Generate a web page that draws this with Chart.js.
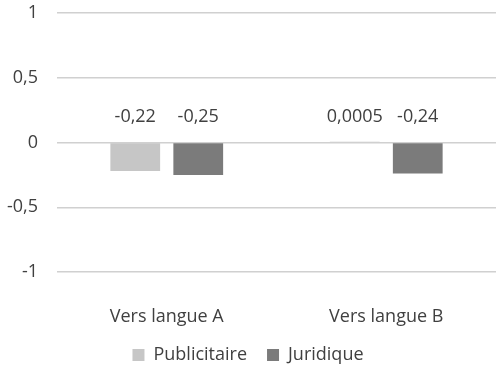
<!DOCTYPE html>
<html lang="fr">
<head>
<meta charset="UTF-8">
<title>Publicitaire / Juridique</title>
<script src="https://cdn.jsdelivr.net/npm/chart.js"></script>
<style>
    body { margin: 0; background: #ffffff; }
    .chart-box { width: 500px; height: 367px; }
</style>
</head>
<body>
<div class="chart-box"><canvas id="chart"></canvas></div>
<script>
    const categories = ['Vers langue A', 'Vers langue B'];
    const publicitaire = [-0.22, 0.0005];
    const juridique = [-0.25, -0.24];
    const yTicks = [-1, -0.5, 0, 0.5, 1];

    const frNum = v => String(v).replace('.', ',');

    // value labels drawn just above the zero line, like the original
    const valueLabels = {
        id: 'valueLabels',
        afterDatasetsDraw(chart) {
            const ctx = chart.ctx;
            const zeroY = chart.scales.y.getPixelForValue(0);
            ctx.save();
            ctx.font = '18px "Open Sans"';
            ctx.fillStyle = '#404040';
            ctx.textAlign = 'center';
            ctx.textBaseline = 'middle';
            chart.data.datasets.forEach((ds, i) => {
                chart.getDatasetMeta(i).data.forEach((bar, j) => {
                    ctx.fillText(frNum(ds.data[j]), bar.x, zeroY - 26);
                });
            });
            ctx.restore();
        }
    };

    new Chart(document.getElementById('chart'), {
        type: 'bar',
        data: {
            labels: categories,
            datasets: [
                { label: 'Publicitaire', data: publicitaire, backgroundColor: '#c6c6c6', minBarLength: 1 },
                { label: 'Juridique', data: juridique, backgroundColor: '#7b7b7b' }
            ]
        },
        options: {
            responsive: true,
            maintainAspectRatio: false,
            animation: false,
            layout: { padding: { top: 0, right: 4, bottom: -7, left: 0 } },
            datasets: {
                bar: { categoryPercentage: 0.574, barPercentage: 0.79 }
            },
            scales: {
                x: {
                    afterFit: s => { s.height = 54; },
                    grid: { display: false },
                    border: { display: false },
                    ticks: { color: '#404040', font: { family: 'Open Sans', size: 18 }, padding: 26 }
                },
                y: {
                    min: -1,
                    max: 1,
                    afterFit: s => { s.width = 57; s.paddingTop = 13; s.paddingBottom = 0; },
                    afterBuildTicks: s => { s.ticks = yTicks.map(v => ({ value: v })); },
                    grid: { color: '#d0d0d0', lineWidth: 1.5, drawTicks: false },
                    border: { display: false },
                    ticks: {
                        color: '#404040',
                        font: { family: 'Open Sans', size: 18 },
                        padding: 19,
                        callback: v => frNum(v)
                    }
                }
            },
            plugins: {
                legend: {
                    position: 'bottom',
                    labels: {
                        color: '#404040',
                        font: { family: 'Open Sans', size: 18 },
                        boxWidth: 12,
                        boxHeight: 12,
                        padding: 20
                    }
                },
                tooltip: { enabled: false }
            }
        },
        plugins: [valueLabels]
    });
</script>
</body>
</html>
